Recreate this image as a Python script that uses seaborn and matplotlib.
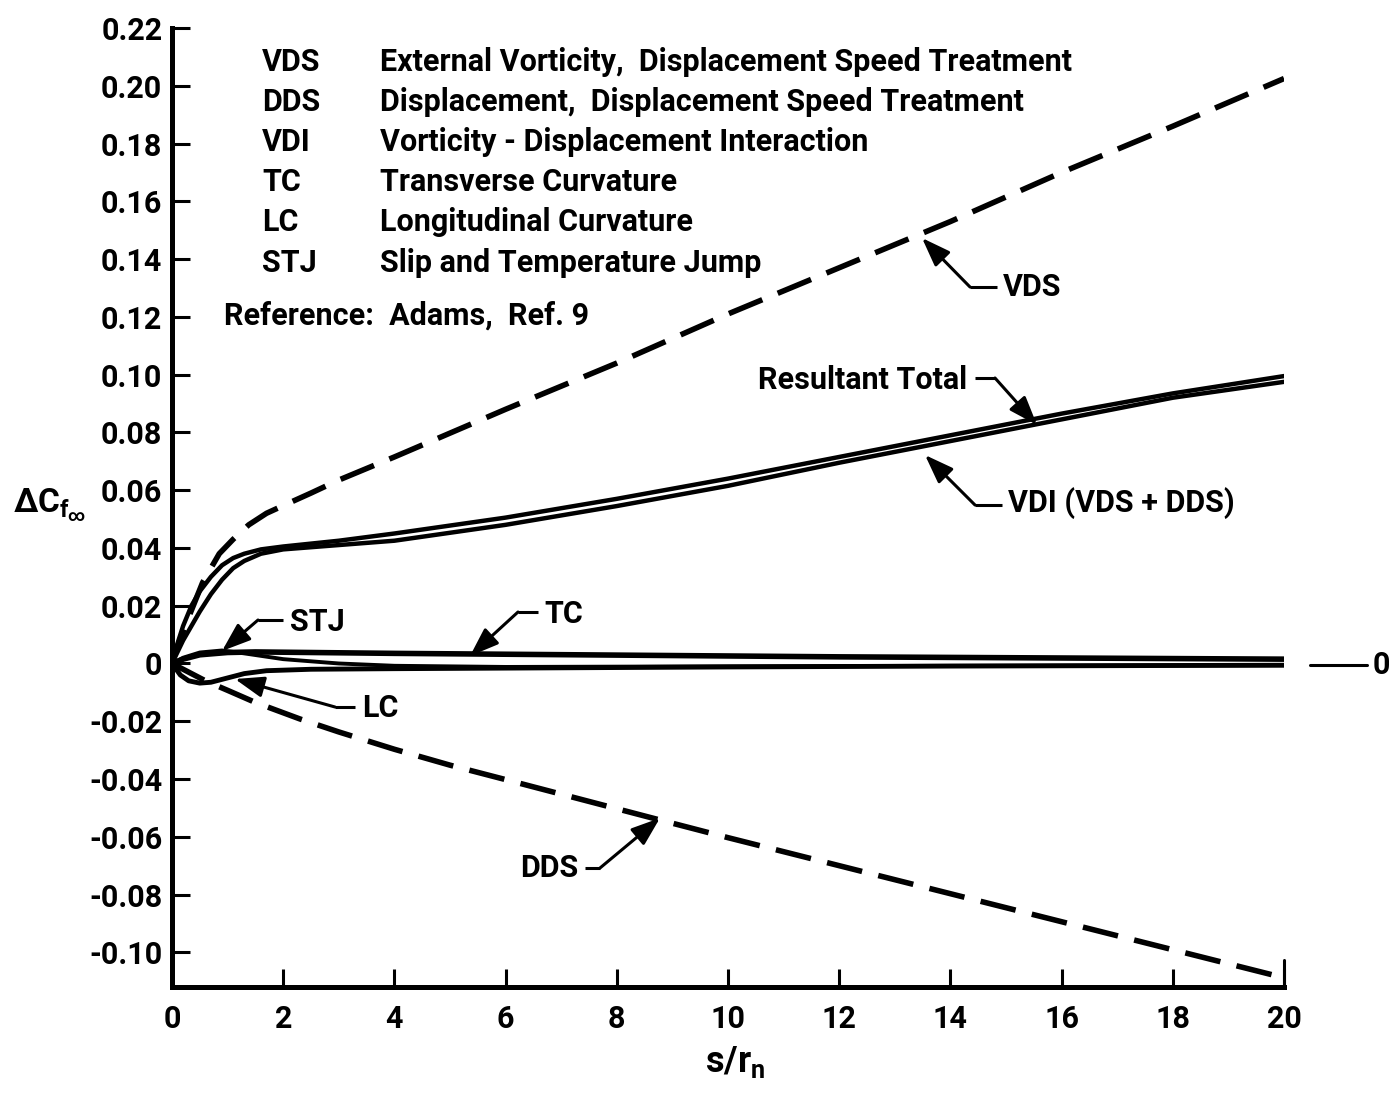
import matplotlib
matplotlib.use("Agg")
import matplotlib.pyplot as plt
from matplotlib.lines import Line2D
from matplotlib.patches import FancyArrowPatch
import seaborn as sns

# ---- data -------------------------------------------------------------
vds_x = [0, 0.1, 0.2, 0.32, 0.55, 0.85, 1.1, 1.38, 1.7, 2.04, 2.5, 3, 4, 6, 8, 10, 12, 14, 16, 18, 20]
vds_y = [0, 0.006, 0.011, 0.017, 0.028, 0.038, 0.043, 0.048, 0.052, 0.055, 0.059, 0.0635,
         0.0715, 0.088, 0.104, 0.121, 0.137, 0.153, 0.170, 0.186, 0.2025]

dds_x = [0, 0.3, 0.6, 1.0, 1.5, 2.3, 3, 4, 5, 6, 8.6, 10, 12, 14, 16, 18, 20]
dds_y = [0, -0.003, -0.006, -0.0093, -0.0135, -0.0192, -0.0237, -0.0297, -0.0352, -0.0402,
         -0.0533, -0.0603, -0.0700, -0.0797, -0.0894, -0.0991, -0.1088]

tot_x = [0, 0.1, 0.2, 0.35, 0.5, 0.7, 0.9, 1.1, 1.3, 1.6, 2, 3, 4, 6, 8, 10, 12, 14, 16, 18, 20]
total_y = [0, 0.007, 0.013, 0.020, 0.025, 0.030, 0.034, 0.0365, 0.038, 0.0395, 0.0405, 0.0425,
           0.045, 0.0505, 0.057, 0.064, 0.0715, 0.079, 0.0865, 0.0935, 0.0995]
vdi_y = [0, 0.004, 0.008, 0.013, 0.018, 0.024, 0.029, 0.033, 0.0355, 0.038, 0.0395, 0.041,
         0.0425, 0.048, 0.0545, 0.0615, 0.0695, 0.077, 0.0845, 0.092, 0.0975]

tc_x = [0, 0.2, 0.5, 1, 1.5, 2, 3, 4, 6, 8, 10, 12, 14, 16, 18, 20]
tc_y = [0, 0.0015, 0.003, 0.0038, 0.0040, 0.0039, 0.0037, 0.0035, 0.0032, 0.0029, 0.0026,
        0.0023, 0.0021, 0.0019, 0.0017, 0.0015]

stj_x = [0, 0.2, 0.5, 0.9, 1.3, 2, 3, 4, 6, 10, 14, 20]
stj_y = [0, 0.002, 0.0038, 0.0045, 0.0035, 0.0015, 0.0, -0.0008, -0.0012, -0.0010, -0.0008, -0.0006]

lc_x = [0, 0.15, 0.3, 0.5, 0.7, 1.0, 1.3, 1.7, 2.5, 4, 6, 10, 14, 20]
lc_y = [0, -0.004, -0.006, -0.0068, -0.0065, -0.005, -0.0035, -0.0025, -0.002, -0.0018,
        -0.0016, -0.0012, -0.0009, -0.0006]

x_ticks = [0, 2, 4, 6, 8, 10, 12, 14, 16, 18, 20]
y_ticks = [-0.10, -0.08, -0.06, -0.04, -0.02, 0, 0.02, 0.04, 0.06, 0.08, 0.10,
           0.12, 0.14, 0.16, 0.18, 0.20, 0.22]
y_tick_labels = ["-0.10", "-0.08", "-0.06", "-0.04", "-0.02", "0", "0.02", "0.04", "0.06",
                 "0.08", "0.10", "0.12", "0.14", "0.16", "0.18", "0.20", "0.22"]

key_abbrev = ["VDS", "DDS", "VDI", "TC", "LC", "STJ"]
key_text = ["External Vorticity,  Displacement Speed Treatment",
            "Displacement,  Displacement Speed Treatment",
            "Vorticity - Displacement Interaction",
            "Transverse Curvature",
            "Longitudinal Curvature",
            "Slip and Temperature Jump"]

# ---- style ------------------------------------------------------------
sns.set_theme(style="ticks")
FAM = ["Roboto", "DejaVu Sans"]
plt.rcParams["font.family"] = FAM
plt.rcParams["font.weight"] = "bold"
plt.rcParams["mathtext.fontset"] = "custom"
plt.rcParams["mathtext.rm"] = "Roboto:bold"
plt.rcParams["mathtext.it"] = "Roboto:bold"
plt.rcParams["mathtext.bf"] = "Roboto:bold"

W, H = 1392, 1094
fig = plt.figure(figsize=(W / 100, H / 100), dpi=100)
fig.patch.set_facecolor("white")
ax = fig.add_axes([172 / W, 1 - 987 / H, (1284 - 172) / W, (987 - 28) / H])
ax.set_facecolor("white")

FS = 22
K = "black"
dash = (0, (6.5, 3))

sns.lineplot(x=vds_x, y=vds_y, ax=ax, color=K, lw=4, linestyle=dash, estimator=None, sort=False)
sns.lineplot(x=dds_x, y=dds_y, ax=ax, color=K, lw=4, linestyle=dash, estimator=None, sort=False)
sns.lineplot(x=tot_x, y=total_y, ax=ax, color=K, lw=3.2, estimator=None, sort=False)
sns.lineplot(x=tot_x, y=vdi_y, ax=ax, color=K, lw=3.2, estimator=None, sort=False)
sns.lineplot(x=tc_x, y=tc_y, ax=ax, color=K, lw=4, estimator=None, sort=False)
sns.lineplot(x=stj_x, y=stj_y, ax=ax, color=K, lw=2.8, estimator=None, sort=False)
sns.lineplot(x=lc_x, y=lc_y, ax=ax, color=K, lw=3.5, estimator=None, sort=False)

ax.set_xlim(0, 20)
ax.set_ylim(-0.112, 0.22)
ax.set_xticks(x_ticks)
ax.set_xticklabels([str(v) for v in x_ticks])
ax.set_yticks(y_ticks)
ax.set_yticklabels(y_tick_labels)
for s in ["top", "right"]:
    ax.spines[s].set_visible(False)
for s in ["left", "bottom"]:
    ax.spines[s].set_linewidth(3.6)
    ax.spines[s].set_color(K)
ax.tick_params(axis="both", direction="in", length=13, width=2.2, color=K,
               labelsize=FS, labelcolor=K)
ax.tick_params(axis="x", pad=12)
ax.tick_params(axis="y", pad=7)
for lab in ax.get_xticklabels() + ax.get_yticklabels():
    lab.set_fontweight("bold")
ax.set_xlabel("")
ax.set_ylabel("")


def fp(px, py):
    return (px / W, 1 - py / H)


def ftext(px, py, s, ha="left", va="center", size=FS):
    fig.text(*fp(px, py), s, ha=ha, va=va, fontsize=size, fontweight="bold",
             color=K, family=FAM)


# key block
rows = [62, 102, 142, 182, 222, 263]
for ab, tx, ry in zip(key_abbrev, key_text, rows):
    ftext(262, ry, ab)
    ftext(380, ry, tx)
ftext(224, 316, "Reference:  Adams,  Ref. 9")


def leader(start, elbow, tip):
    (x0, y0), (x1, y1) = fp(*start), fp(*elbow)
    fig.add_artist(Line2D([x0, x1], [y0, y1], transform=fig.transFigure,
                          color=K, lw=2.2, solid_capstyle="butt"))
    fig.add_artist(FancyArrowPatch(
        fp(*elbow), fp(*tip), transform=fig.transFigure,
        arrowstyle="-|>,head_length=1.1,head_width=0.4", mutation_scale=16,
        color=K, lw=2.2, shrinkA=0, shrinkB=0))


ftext(1003, 287, "VDS")
leader((997, 287), (970, 287), (922, 238))

ftext(758, 380, "Resultant Total")
leader((975, 378), (995, 378), (1037, 425))

ftext(1008, 503, "VDI (VDS + DDS)")
leader((1002, 505), (975, 505), (925, 455))

ftext(290, 622, "STJ")
leader((283, 620), (258, 620), (222, 651))

ftext(544, 614, "TC")
leader((538, 612), (518, 612), (470, 656))

ftext(362, 708, "LC")
leader((355, 707), (335, 707), (235, 679))

ftext(520, 868, "DDS")
leader((585, 868), (600, 868), (660, 818))

# zero reference at the right edge
fig.add_artist(Line2D([1310 / W, 1367 / W], [1 - 665 / H, 1 - 665 / H],
                      transform=fig.transFigure, color=K, lw=2.2))
ftext(1381, 665, "0", ha="center")

# taller end mark at the right end of the x axis
fig.add_artist(Line2D([1284 / W, 1284 / W], [1 - 987 / H, 1 - 960 / H],
                      transform=fig.transFigure, color=K, lw=2.2))

# axis titles
ftext(50, 505, r"$\Delta C_{f_{\infty}}$", ha="center", size=FS + 2)
ftext(735, 1062, r"$s/r_n$", ha="center", size=FS + 4)

fig.savefig("out.png", dpi=100, facecolor="white")
